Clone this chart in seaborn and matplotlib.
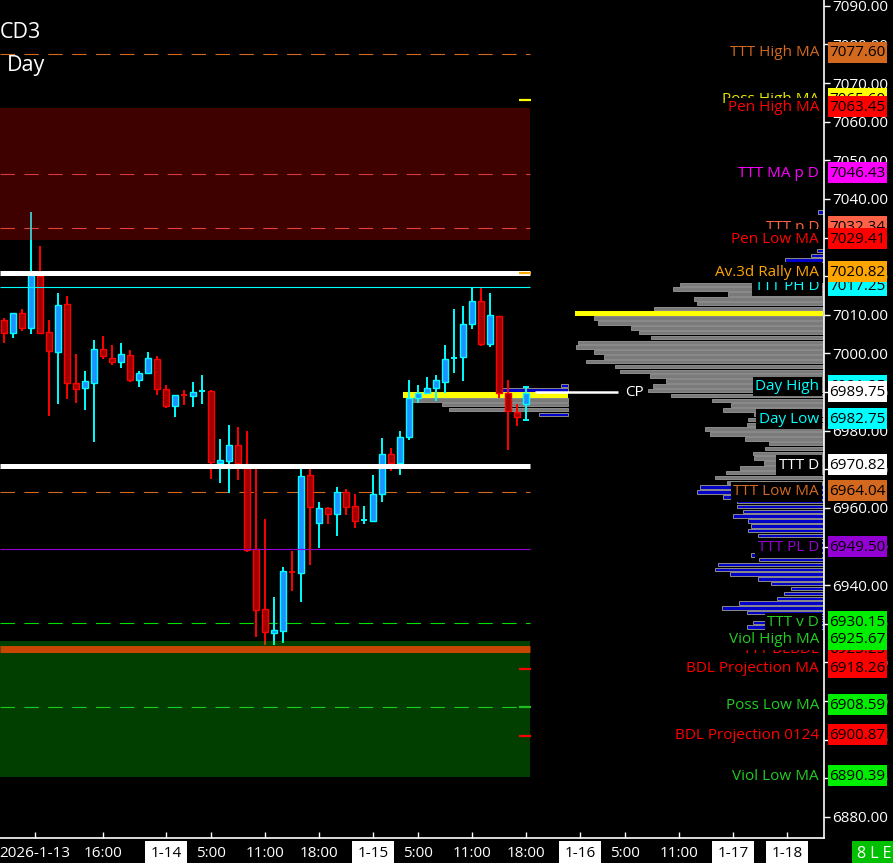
import numpy as np
import pandas as pd
import seaborn as sns
import matplotlib.pyplot as plt
from matplotlib.patches import Rectangle

# hourly bars, bar 0 is the first one at the left edge
opens = [7008.65, 7005.35, 7010.4, 7006.65, 7020.0, 7005.45, 7000.45, 7012.7, 6992.25, 6991.1,
         6992.4, 7001.05, 6998.7, 6997.85, 6999.5, 6993.05, 6994.85, 6998.45, 6990.7, 6986.45,
         6989.4, 6989.05, 6990.1, 6990.3, 6971.55, 6972.2, 6976.3, 6971.4, 6949.3, 6933.85,
         6927.7, 6928.2, 6943.5, 6943.05, 6968.45, 6956.0, 6960.0, 6958.35, 6964.2, 6960.4,
         6956.7, 6956.7, 6963.5, 6973.9, 6971.7, 6978.45, 6988.4, 6989.7, 6991.0, 6992.7,
         6998.5, 6999.15, 7007.5, 7013.5, 7002.4, 7009.6, 6989.8, 6984.75, 6986.9]
highs = [7009.25, 7010.4, 7011.5, 7036.6, 7027.8, 7008.65, 7015.6, 7014.9, 6999.85, 6995.45,
         7003.45, 7004.5, 7002.2, 7002.7, 7000.9, 6995.45, 7000.4, 6999.3, 6991.8, 6989.15,
         6990.5, 6992.6, 6994.4, 6990.5, 6977.85, 6981.5, 6981.0, 6979.9, 6970.4, 6957.1,
         6936.9, 6944.8, 6948.85, 6970.5, 6970.4, 6961.5, 6960.3, 6965.5, 6964.9, 6963.6,
         6960.5, 6968.5, 6978.1, 6975.5, 6979.9, 6993.1, 6991.8, 6993.8, 6994.4, 7002.2,
         7011.5, 7012.3, 7016.9, 7017.3, 7015.6, 7009.6, 6993.1, 6986.9, 6991.25]
lows = [7002.6, 7004.05, 7005.9, 7005.0, 7005.35, 6983.8, 6986.9, 6988.2, 6987.2, 6985.35,
        6977.1, 6998.6, 6997.0, 6996.3, 6992.7, 6991.4, 6994.85, 6989.2, 6985.95, 6983.6,
        6986.6, 6986.2, 6986.9, 6967.6, 6966.5, 6963.95, 6967.2, 6948.7, 6926.7, 6924.5,
        6924.5, 6925.1, 6938.6, 6935.7, 6945.2, 6949.7, 6955.8, 6952.8, 6958.2, 6954.8,
        6955.8, 6956.7, 6961.6, 6969.65, 6968.6, 6977.6, 6987.1, 6989.7, 6987.8, 6989.7,
        6994.85, 6992.9, 7006.4, 7002.0, 7001.7, 6988.4, 6975.0, 6981.2, 6982.75]
closes = [7005.35, 7010.4, 7006.65, 7020.2, 7005.35, 7000.7, 7012.45, 6992.4, 6990.9, 6992.85,
          7001.05, 6999.4, 6997.85, 6999.85, 6993.05, 6994.9, 6998.7, 6990.7, 6986.45, 6989.15,
          6989.2, 6990.0, 6990.3, 6971.8, 6972.4, 6976.3, 6971.7, 6949.1, 6933.6, 6927.95,
          6928.3, 6943.65, 6943.3, 6968.3, 6960.2, 6960.0, 6958.35, 6964.2, 6960.3, 6956.7,
          6956.9, 6963.5, 6973.9, 6971.7, 6978.3, 6988.4, 6989.7, 6991.0, 6993.1, 6998.5,
          6998.7, 7007.5, 7013.5, 7002.4, 7009.9, 6989.8, 6985.1, 6983.6, 6989.75]

tick_pos = [3.4, 11, 18, 23, 29, 35, 41, 46, 52, 58, 64, 69, 75, 81, 87]
tick_text = ['2026-1-13', '16:00', '1-14', '5:00', '11:00', '18:00', '1-15', '5:00',
             '11:00', '18:00', '1-16', '5:00', '11:00', '1-17', '1-18']
day_marks = ['1-14', '1-15', '1-16', '1-17', '1-18']

# volume profile (bar length in px), one row per 1.25 pts going down from prof_top
prof_top = 7036.625
prof_len = [5, 0, 0, 0, 0, 0, 0, 0, 6, 12, 38, 0, 0, 0, 0,
            143, 150, 95, 129, 126, 169, 248,
            229, 225, 192, 184, 172, 245, 247, 229, 219, 237, 208, 203, 173, 157, 170, 175,
            152, 111, 92, 100, 69, 75, 76, 118, 113, 78, 54, 58, 70, 69, 59, 83, 97, 108, 96,
            123, 126, 100, 86, 86, 80, 90, 75, 72, 75, 65, 66, 53, 48, 72, 64, 105, 108, 93,
            65, 52, 32, 39, 46, 84, 101, 76, 23, 70, 76]
poc_price = 7010.375
va_high = 7017.875
va_low = 6966.625

# small profile of the current session
sess_prices = [6991.75, 6990.5, 6989.25, 6988.0, 6986.75, 6985.5, 6984.25]
sess_len = [7, 66, 165, 158, 126, 119, 29]

# levels drawn across the bars
line_prices = [7077.60, 7046.43, 7032.34, 6964.04, 6930.15, 6908.59, 7017.25, 6949.50,
               7020.82, 6970.82, 6923.5]
line_colors = ['#d2691e', '#c85050', '#d85a4a', '#d2691e', '#00e000', '#22bb22', '#00ffff',
               '#9400d3', 'white', 'white', '#c84600']
line_widths = [0.8, 0.8, 0.8, 0.8, 0.8, 0.8, 0.8, 0.8, 3.6, 3.6, 5.0]
line_dashed = [True, True, True, True, True, True, False, False, False, False, False]

mark_prices = [7065.6, 7020.82, 6918.26, 6908.59, 6900.87]
mark_colors = ['#ffff00', '#ffa500', '#ff0000', '#22bb22', '#ff0000']

zone_red = (7029.41, 7063.45)
zone_green = (6890.39, 6925.67)

# price labels at the right edge
level_names = ['Poss High MA', 'TTT High MA', 'Pen High MA', 'TTT MA p D', 'TTT p D',
               'Pen Low MA', 'TTT PH D', 'Av.3d Rally MA', 'Day High', 'Day Low', 'TTT D',
               'TTT Low MA', 'TTT PL D', 'TTT v D', 'TTT BLBDL', 'Viol High MA',
               'BDL Projection MA', 'Poss Low MA', 'BDL Projection 0124', 'Viol Low MA']
level_prices = [7065.6, 7077.60, 7063.45, 7046.43, 7032.34, 7029.41, 7017.25, 7020.82,
                6991.25, 6982.75, 6970.82, 6964.04, 6949.50, 6930.15, 6923.25, 6925.67,
                6918.26, 6908.59, 6900.87, 6890.39]
level_text_col = ['#e6e600', '#d2691e', '#ff0000', '#ff00ff', '#ff6347', '#ff0000', '#00ffff',
                  '#ffa500', '#00ffff', '#00ffff', 'white', '#d2691e', '#9400d3', '#22cc22',
                  '#ff0000', '#22cc22', '#ff0000', '#22cc22', '#ff0000', '#22cc22']
level_box_col = ['#ffff00', '#d2691e', '#ff0000', '#ff00ff', '#ff6347', '#ff0000', '#00ffff',
                 '#ffa500', '#00ffff', '#00ffff', 'white', '#d2691e', '#9400d3', '#00ee00',
                 '#ff0000', '#00ee00', '#ff0000', '#00ee00', '#ff0000', '#00ee00']
level_z = [1, 2, 3, 2, 1, 3, 1, 2, 1, 2, 2, 2, 2, 2, 1, 3, 2, 2, 2, 2]
last_price = 6989.75
cp_price = 6990.0

sns.set_theme(style="dark", rc={"axes.facecolor": "black", "figure.facecolor": "black",
                                "axes.edgecolor": "white", "text.color": "white",
                                "xtick.color": "white", "ytick.color": "white"})
plt.rcParams['font.family'] = ['Open Sans', 'DejaVu Sans']

fig = plt.figure(figsize=(8.93, 8.63), dpi=100)
ax = fig.add_axes([0, 25 / 863, 824 / 893, 838 / 863])
ax.set_facecolor('black')
x_left, x_right = -0.444, 91.11
ax.set_xlim(x_left, x_right)
ax.set_ylim(6874.56, 7091.49)

df = pd.DataFrame({'o': opens, 'h': highs, 'l': lows, 'c': closes})
df['x'] = np.arange(len(df))
up = df.c >= df.o
lo = df[['o', 'c']].min(axis=1)
hgt = (df.c - df.o).abs()
doji = hgt < 0.6
line_end = 58.45

# zones (translucent, on top of the bars like in the platform)
ax.fill_between([x_left, line_end], *zone_red, color='#ff0000', alpha=0.25, lw=0, zorder=5)
ax.fill_between([x_left, line_end], *zone_green, color='#00ff00', alpha=0.25, lw=0, zorder=5)

for p, c, w, d in zip(line_prices, line_colors, line_widths, line_dashed):
    ax.hlines(p, x_left, line_end, colors=c, lw=w, zorder=2 if d else 6,
              linestyles=(0, (13, 8.5)) if d else 'solid')
for p, c in zip(mark_prices, mark_colors):
    ax.hlines(p, 57.2, 58.6, colors=c, lw=1.6, zorder=6)

# candles
ax.vlines(df.x[up], df.l[up], df.h[up], colors='#00ffff', lw=1.4, zorder=3)
ax.vlines(df.x[~up], df.l[~up], df.h[~up], colors='#ff0000', lw=1.4, zorder=3)
m = up & ~doji
ax.bar(df.x[m], hgt[m], bottom=lo[m], width=0.64, color='#1e90ff', edgecolor='#00ffff',
       lw=1.0, zorder=4)
m = ~up & ~doji
ax.bar(df.x[m], hgt[m], bottom=lo[m], width=0.64, color='#a00000', edgecolor='#ff0000',
       lw=1.0, zorder=4)
for xi, ci, u in zip(df.x[doji], df.c[doji], up[doji]):
    ax.hlines(ci, xi - 0.36, xi + 0.36, colors='#00ffff' if u else '#ff0000', lw=1.4, zorder=4)
last = df.iloc[-1]
ax.hlines([last.h, last.l], last.x - 0.36, last.x + 0.36, colors='#00ffff', lw=1.4, zorder=4)

# volume profile at the right edge
prof_x = 91.0
prof_prices = prof_top - 1.25 * np.arange(len(prof_len))
prof_w = np.array(prof_len) / 9.0
cols = []
for p in prof_prices:
    if abs(p - poc_price) < 0.1:
        cols.append('#ffff00')
    elif va_low - 0.1 <= p <= va_high + 0.1:
        cols.append('#7a7a7a')
    else:
        cols.append('#0000c8')
edges = ['none' if c == '#ffff00' else '#8c8c8c' for c in cols]
hts = [1.35 if c == '#ffff00' else 0.9 for c in cols]
keep = prof_w > 0
ax.barh(prof_prices[keep], -prof_w[keep], left=prof_x, height=np.array(hts)[keep],
        color=np.array(cols)[keep], edgecolor=np.array(edges)[keep], lw=0.7, zorder=2)

sess_x = 62.67
sess_cols = ['#0000c8', '#0000c8', '#ffff00', '#7a7a7a', '#7a7a7a', '#7a7a7a', '#0000c8']
ax.barh(sess_prices, -np.array(sess_len) / 9.0, left=sess_x, height=[0.9, 0.9, 1.35, 0.9, 0.9, 0.9, 0.9],
        color=sess_cols, edgecolor=['#8c8c8c', '#8c8c8c', 'none', '#8c8c8c', '#8c8c8c', '#8c8c8c', '#8c8c8c'],
        lw=0.7, zorder=2)
ax.hlines(cp_price, 59.0, 68.2, colors='white', lw=1.8, zorder=6)
ax.text(69.0, cp_price, 'CP', color='white', fontsize=11, va='center', ha='left', zorder=7)

# labels and price boxes (box: 828..887 px wide, 21 px tall)
fs = 11
ytr = ax.get_yaxis_transform()
bx0, bx1 = 828 / 824, 887 / 824
bh = 21 / 3.863


def price_box(p, text, color, z):
    ax.add_patch(Rectangle((bx0, p + 0.4 - bh / 2), bx1 - bx0, bh, transform=ytr,
                           facecolor=color, edgecolor='none', zorder=z, clip_on=False))
    ax.text((bx0 + bx1) / 2, p + 0.2, text, transform=ytr, ha='center', va='center',
            color='black', fontsize=fs, zorder=z + 0.5, clip_on=False)


for name, p, tc, bc, z in zip(level_names, level_prices, level_text_col, level_box_col, level_z):
    ax.text(0.994, p + 0.2, name, transform=ytr, ha='right', va='center', color=tc, fontsize=fs,
            bbox=dict(facecolor='black', edgecolor='none', pad=1.8), zorder=10 + z, clip_on=False)
    price_box(p, f'{p:.2f}', bc, 10 + z)
price_box(last_price, f'{last_price:.2f}', 'white', 14)

# axes
for s in ['left', 'top']:
    ax.spines[s].set_visible(False)
for s in ['right', 'bottom']:
    ax.spines[s].set_color('white')
    ax.spines[s].set_linewidth(1.2)
ax.yaxis.tick_right()
ax.set_yticks(np.arange(6880, 7091, 10))
ax.set_yticklabels([f'{v:.2f}' for v in np.arange(6880, 7091, 10)])
ax.tick_params(axis='y', right=True, left=False, direction='out', length=4, width=1,
               colors='white', labelsize=fs, pad=2)
ax.set_xticks(tick_pos)
ax.set_xticklabels(tick_text)
ax.tick_params(axis='x', bottom=True, direction='in', length=4, width=1, colors='white',
               labelsize=fs, pad=6)
for lab in ax.get_xticklabels():
    if lab.get_text() in day_marks:
        lab.set_color('black')
        lab.set_bbox(dict(facecolor='white', edgecolor='none', pad=3.6))
ax.grid(False)

fig.text(0.0, 1 - 33 / 863, 'CD3', color='white', fontsize=15.5, ha='left', va='center')
fig.text(7 / 893, 1 - 66 / 863, 'Day', color='white', fontsize=15.5, ha='left', va='center')
fig.text(874 / 893, 9 / 863, '8 L E', color='white', fontsize=11.5, ha='center', va='center',
         bbox=dict(facecolor='#00c000', edgecolor='none', pad=3.5))

fig.savefig('out.png', dpi=100, facecolor='black')
